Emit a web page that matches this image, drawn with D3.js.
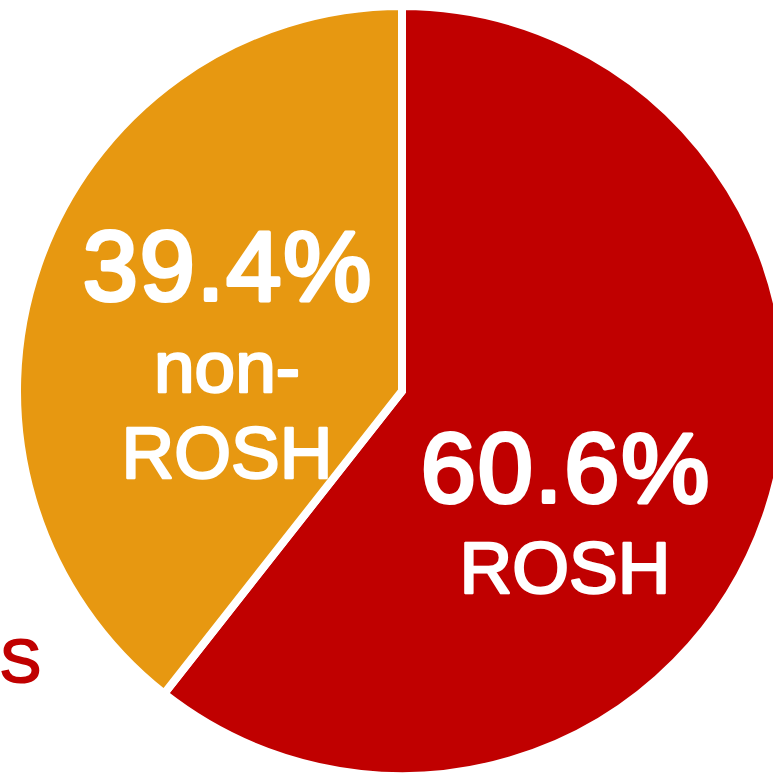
<!DOCTYPE html>
<html><head><meta charset="utf-8">
<script src="https://cdn.jsdelivr.net/npm/d3@7"></script>
<style>html,body{margin:0;padding:0;background:#fff;overflow:hidden}</style>
</head><body>
<svg id="c" width="773" height="773"></svg>
<script>
const categories = ["ROSH", "non-ROSH"];
const values = [60.6, 39.4];
const labelLines = [["ROSH"], ["non-", "ROSH"]];
const colors = ["#C00000", "#E79811"];

const svg = d3.select("#c");
const cx = 402, cy = 391, r = 385;
const g = svg.append("g").attr("transform", `translate(${cx},${cy})`);

const pie = d3.pie().sort(null).value(d => d);
const arc = d3.arc().innerRadius(0).outerRadius(r);
const arcs = pie(values);

g.selectAll("path").data(arcs).enter().append("path")
  .attr("d", arc)
  .attr("fill", (d, i) => colors[i])
  .attr("stroke", "#fff")
  .attr("stroke-width", 8)
  .attr("stroke-linejoin", "miter");

// labels
const labelPos = [{x: 163, y: 111, lines: [91]}, {x: -175, y: -91, lines: [92, 178]}];
const font = "'Liberation Sans', Arial, sans-serif";
arcs.forEach((d, i) => {
  const p = labelPos[i];
  const t = g.append("text").attr("text-anchor", "middle").attr("fill", "#fff")
    .attr("stroke", "#fff").attr("stroke-linejoin", "round").attr("font-family", font);
  t.append("tspan").attr("x", p.x + 1).attr("y", p.y)
    .attr("font-size", 99).attr("stroke-width", 4).attr("letter-spacing", 2)
    .text(d3.format(".1f")(values[i]) + "%");
  labelLines[i].forEach((ln, j) => {
    t.append("tspan").attr("x", p.x).attr("y", p.y + p.lines[j])
      .attr("font-size", 73).attr("stroke-width", 2.5).text(ln);
  });
});

// clipped legend fragment
svg.append("text").attr("x", 41).attr("y", 682).attr("text-anchor", "end")
  .attr("font-family", font).attr("font-size", 62).attr("fill", "#C00000")
  .attr("stroke", "#C00000").attr("stroke-width", 2).text("S");
</script>
</body></html>
